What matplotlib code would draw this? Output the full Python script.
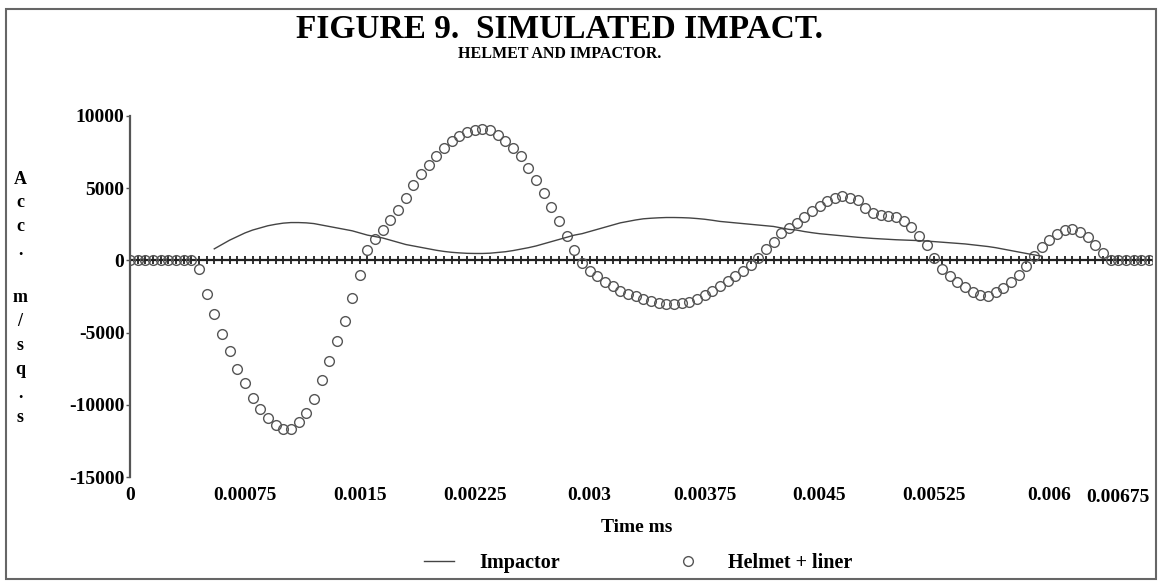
import numpy as np
import matplotlib
matplotlib.use("Agg")
import matplotlib.pyplot as plt
from matplotlib.patches import Rectangle

plt.rcParams['font.family'] = ['Liberation Serif', 'DejaVu Serif']
plt.rcParams['font.weight'] = 'bold'

# time grid, one sample every 0.00005
time = [round(i * 0.00005, 5) for i in range(135)]

helmet = [0, 0, 0, 0, 0, 0, 0, 0, 0,
          -600, -2300, -3700, -5100, -6300, -7500, -8500, -9500, -10300, -10900,
          -11400, -11700, -11650, -11200, -10600, -9600, -8300, -7000, -5600, -4200,
          -2600, -1000, 700, 1500, 2100, 2800, 3500, 4300, 5200, 6000,
          6600, 7200, 7800, 8300, 8600, 8900, 9050, 9100, 9000, 8700,
          8300, 7800, 7200, 6400, 5600, 4700, 3700, 2700, 1700, 700,
          -200, -700, -1100, -1500, -1800, -2100, -2300, -2500, -2700, -2800,
          -2950, -3000, -3000, -2950, -2850, -2650, -2400, -2100, -1800, -1450,
          -1100, -750, -350, 200, 800, 1300, 1900, 2250, 2600, 3000,
          3450, 3800, 4100, 4350, 4450, 4350, 4150, 3600, 3300, 3150,
          3100, 3000, 2750, 2300, 1700, 1100, 200, -600, -1100, -1500,
          -1850, -2200, -2400, -2450, -2200, -1900, -1500, -1000, -400, 300,
          900, 1400, 1800, 2100, 2200, 2000, 1650, 1100, 500,
          0, 0, 0, 0, 0, 0, 0]

impactor = [np.nan] * 11 + [
    800, 1100, 1400, 1650, 1900, 2100, 2250, 2400, 2500, 2580,
    2620, 2620, 2600, 2550, 2450, 2350, 2250, 2150, 2050, 1900,
    1750, 1650, 1550, 1400, 1250, 1100, 1000, 900, 800, 700,
    620, 560, 520, 490, 480, 480, 500, 550, 600, 680,
    780, 880, 1000, 1150, 1300, 1450, 1600, 1750, 1850, 2000,
    2150, 2300, 2450, 2600, 2700, 2800, 2880, 2920, 2950, 2970,
    2970, 2960, 2940, 2900, 2850, 2780, 2700, 2650, 2600, 2550,
    2500, 2450, 2400, 2350, 2250, 2150, 2100, 2000, 1920, 1850,
    1800, 1750, 1700, 1650, 1600, 1560, 1520, 1490, 1460, 1430,
    1410, 1390, 1370, 1340, 1300, 1260, 1220, 1180, 1140, 1080,
    1020, 960, 880, 780, 680, 580, 480, 380, 300] + [np.nan] * 15

xticks = [0, 0.00075, 0.0015, 0.00225, 0.003, 0.00375, 0.0045, 0.00525, 0.006, 0.00675]
xlabels = ["0", "0.00075", "0.0015", "0.00225", "0.003", "0.00375", "0.0045", "0.00525", "0.006", "0.00675"]
yticks = [-15000, -10000, -5000, 0, 5000, 10000]

W, H = 1162, 583
fig = plt.figure(figsize=(W / 100, H / 100), dpi=100)
fig.patches.append(Rectangle((6 / W, 4 / H), 1150 / W, 570 / H, transform=fig.transFigure,
                             fill=False, edgecolor='#666666', linewidth=1.5))

ax = fig.add_axes([130 / W, (H - 477) / H, (1152 - 130) / W, (477 - 116) / H])
ax.set_xlim(0, 0.00667)
ax.set_ylim(-15000, 10000)

# category axis at zero with a cross tick at every sample
ax.axhline(0, color='#222222', linewidth=1.6, zorder=1)
ax.plot(time, [0] * len(time), linestyle='none', marker='|', markersize=6,
        markeredgewidth=1.3, color='#222222', zorder=1)

l1, = ax.plot(time, impactor, color='#444444', linewidth=1.0, label='Impactor', zorder=3)
l2, = ax.plot(time, helmet, linestyle='none', marker='o', markersize=7, markerfacecolor='none',
              markeredgecolor='#555555', markeredgewidth=1.0, label='Helmet + liner', zorder=2)

for s in ['top', 'right', 'bottom']:
    ax.spines[s].set_visible(False)
ax.spines['left'].set_color('#555555')
ax.spines['left'].set_linewidth(1.6)

ax.set_yticks(yticks)
ax.set_yticklabels([str(v) for v in yticks], fontsize=14, fontweight='bold')
ax.tick_params(axis='y', length=3, width=1, color='#555555', pad=1)
ax.set_xticks(xticks[:-1])
ax.set_xticklabels(xlabels[:-1], fontsize=14, fontweight='bold')
ax.tick_params(axis='x', length=0, pad=7)
# last label squeezed against the right edge, as in the original
fig.text(1150 / W, 1 - 497 / H, xlabels[-1], ha='right', va='center',
         fontsize=14, fontweight='bold')

fig.text(560 / W, 1 - 29 / H, "FIGURE 9.  SIMULATED IMPACT.", ha='center', va='center',
         fontsize=24, fontweight='bold')
fig.text(560 / W, 1 - 54 / H, "HELMET AND IMPACTOR.", ha='center', va='center',
         fontsize=11.5, fontweight='bold')
fig.text(637 / W, 1 - 527 / H, "Time ms", ha='center', va='center', fontsize=14, fontweight='bold')

for k, ch in enumerate("Acc. m/sq.s"):
    fig.text(20 / W, 1 - (179 + 23.8 * k) / H, ch, ha='center', va='center',
             fontsize=13, fontweight='bold')

fig.legend(handles=[l1, l2], loc='center', bbox_to_anchor=(638 / W, 1 - 563 / H), ncol=2,
           frameon=False, prop={'weight': 'bold', 'size': 14.5}, handlelength=1.5,
           handletextpad=1.25, columnspacing=5.6)

plt.savefig("out.png", dpi=100)
